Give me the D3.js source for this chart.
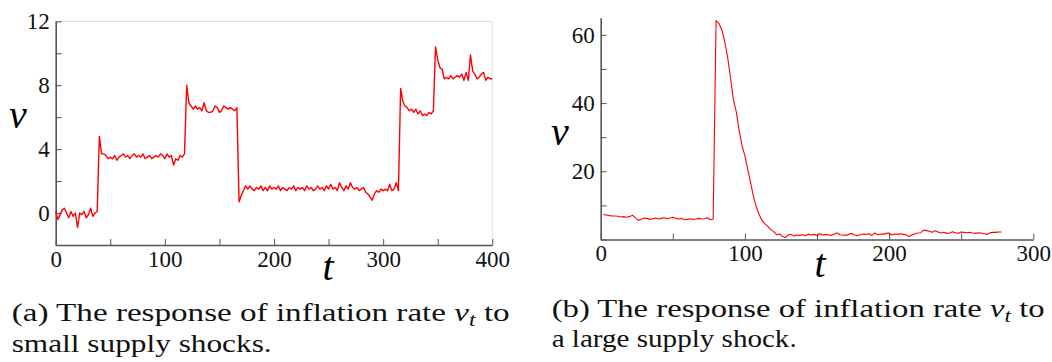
<!DOCTYPE html>
<html>
<head>
<meta charset="utf-8">
<script src="https://cdn.jsdelivr.net/npm/d3@7"></script>
<style>
  body { margin: 0; background: #fff; }
  svg { display: block; }
  svg text { font-family: "Liberation Serif", "DejaVu Serif", serif; }
</style>
</head>
<body>
<div id="chart"></div>
<script>
// (a) small shocks: v sampled every 2 periods, t = 0..400
var smallStart = 0, smallStep = 2;
var smallShocks = [
   0.1, -0.4, -0.1,  0.2,  0.3,  0.0, -0.3,  0.1, -0.2,  0.0,   // t 0-18
  -0.9,  0.0, -0.1,  0.1, -0.3, -0.1,  0.3, -0.2,  0.0,  0.1,   // t 20-38
   4.8,  3.7,  3.7,  3.6,  3.4,  3.5,  3.4,  3.6,  3.3,  3.5,   // t 40-58
   3.6,  3.7,  3.5,  3.6,  3.4,  3.6,  3.7,  3.5,  3.6,  3.5,   // t 60-78
   3.7,  3.4,  3.5,  3.6,  3.4,  3.5,  3.6,  3.5,  3.7,  3.6,   // t 80-98
   3.4,  3.7,  3.5,  3.6,  3.0,  3.4,  3.3,  3.6,  3.5,  3.7,   // t 100-118
   8.0,  6.9,  6.7,  6.5,  6.7,  6.5,  6.6,  6.4,  6.9,  6.4,   // t 120-138
   6.3,  6.3,  6.4,  6.7,  6.6,  6.3,  6.4,  6.7,  6.6,  6.5,   // t 140-158
   6.6,  6.5,  6.4,  6.6,  0.7,  1.1,  1.4,  1.7,  1.5,  1.7,   // t 160-178
   1.5,  1.4,  1.6,  1.5,  1.7,  1.4,  1.6,  1.4,  1.7,  1.5,   // t 180-198
   1.6,  1.5,  1.7,  1.4,  1.6,  1.5,  1.4,  1.6,  1.5,  1.7,   // t 200-218
   1.4,  1.6,  1.5,  1.6,  1.4,  1.7,  1.5,  1.6,  1.4,  1.5,   // t 220-238
   1.7,  1.5,  1.6,  1.4,  1.7,  1.5,  1.8,  1.5,  1.6,  1.4,   // t 240-258
   1.9,  1.6,  1.4,  1.7,  1.5,  1.9,  1.6,  1.5,  1.6,  1.4,   // t 260-278
   1.5,  1.6,  1.3,  1.2,  1.0,  0.8,  1.2,  1.4,  1.3,  1.5,   // t 280-298
   1.4,  1.5,  1.4,  1.8,  1.4,  1.5,  1.9,  1.4,  7.8,  7.0,   // t 300-318
   6.7,  6.6,  6.4,  6.5,  6.3,  6.5,  6.2,  6.4,  6.1,  6.2,   // t 320-338
   6.1,  6.3,  6.2,  6.4, 10.4,  9.6,  9.1,  9.0,  8.4,  8.5,   // t 340-358
   8.4,  8.6,  8.4,  8.5,  8.6,  8.5,  8.7,  8.3,  8.8,  8.3,   // t 360-378
   9.9,  8.9,  8.7,  8.4,  8.5,  8.7,  8.8,  8.3,  8.5,  8.4,   // t 380-398
   8.4                                                          // t 400
];

// (b) one large shock: v sampled every 2 periods, t = 2..278
var largeStart = 2, largeStep = 2;
var largeShock = [
   7.3,  7.2,  7.0,  6.9,  6.9,  6.8,  6.6,  6.7,  6.5,  6.7,   // t 2-20
   7.1,  6.4,  5.6,  5.9,  6.3,  6.2,  5.9,  6.1,  6.3,  6.0,   // t 22-40
   6.2,  6.4,  6.1,  6.3,  6.5,  6.2,  6.0,  6.2,  5.8,  5.9,   // t 42-60
   6.1,  5.9,  6.0,  6.2,  6.0,  6.1,  6.4,  5.8,  6.0, 64.2,   // t 62-80
  63.3, 61.5, 58.0, 53.5, 47.5, 41.0, 37.5, 32.0, 27.5, 24.5,   // t 82-100
  20.5, 16.5, 12.5,  9.5,  7.2,  5.5,  4.6,  3.8,  2.9,  2.3,   // t 102-120
   1.4,  1.6,  0.9,  0.6,  1.3,  1.5,  1.0,  1.3,  1.2,  1.4,   // t 122-140
   1.1,  1.6,  1.3,  1.5,  1.2,  1.7,  1.3,  1.5,  1.4,  1.2,   // t 142-160
   1.6,  1.9,  1.4,  1.3,  1.2,  1.5,  1.8,  1.3,  1.1,  1.4,   // t 162-180
   1.6,  1.5,  1.7,  1.2,  1.9,  1.4,  1.6,  1.5,  1.8,  1.9,   // t 182-200
   1.3,  1.6,  1.5,  1.7,  1.5,  1.3,  0.9,  1.4,  1.7,  1.9,   // t 202-220
   2.0,  2.8,  2.6,  2.4,  2.1,  2.6,  2.2,  1.9,  2.1,  1.8,   // t 222-240
   1.9,  2.3,  2.0,  1.8,  2.2,  2.1,  2.0,  2.1,  1.9,  1.8,   // t 242-260
   2.0,  1.9,  1.7,  1.5,  2.0,  2.1,  2.1,  2.2,  2.2          // t 262-278
];

var smallXTicks = [0, 50, 100, 150, 200, 250, 300, 350, 400];
var smallXLabels = [0, 100, 200, 300, 400];
var smallYTicks = [-2, 0, 2, 4, 6, 8, 10, 12];
var smallYLabels = [0, 4, 8, 12];

var largeXTicks = [0, 50, 100, 150, 200, 250, 300];
var largeXLabels = [0, 100, 200, 300];
var largeYTicks = [0, 10, 20, 30, 40, 50, 60];
var largeYLabels = [20, 40, 60];

var axisColor = "#555";

var svg = d3.select("#chart").append("svg")
    .attr("width", 1052)
    .attr("height", 362);

function toPoints(vals, start, step) {
  return vals.map(function(v, i) { return [start + i * step, v]; });
}

function drawPanel(opt) {
  var x = d3.scaleLinear().domain(opt.xDomain).range([opt.left, opt.right]);
  var y = d3.scaleLinear().domain(opt.yDomain).range([opt.bottom, opt.top]);

  var g = svg.append("g");

  if (opt.frame) {
    g.append("path")
        .attr("d", "M" + x.range()[0] + "," + y.range()[1] + "H" + x.range()[1] + "V" + y.range()[0])
        .attr("fill", "none")
        .attr("stroke", "#e3e3e3")
        .attr("stroke-width", 1.2);
  }

  var xAxis = d3.axisBottom(x)
      .tickValues(opt.xTicks)
      .tickSize(-6)
      .tickSizeOuter(0)
      .tickPadding(opt.xPad)
      .tickFormat(function(d) { return opt.xLabels.indexOf(d) >= 0 ? d : ""; });

  var yAxis = d3.axisLeft(y)
      .tickValues(opt.yTicks)
      .tickSize(-6)
      .tickSizeOuter(0)
      .tickPadding(6)
      .tickFormat(function(d) { return opt.yLabels.indexOf(d) >= 0 ? d : ""; });

  var gx = g.append("g")
      .attr("transform", "translate(0," + opt.bottom + ")")
      .call(xAxis);
  var gy = g.append("g")
      .attr("transform", "translate(" + opt.left + ",0)")
      .call(yAxis);

  [gx, gy].forEach(function(a) {
    a.attr("font-family", null).attr("font-size", 23);
    a.select(".domain").attr("stroke", axisColor).attr("stroke-width", 1.6);
    a.selectAll(".tick line").attr("stroke", axisColor).attr("stroke-width", 1);
    a.selectAll(".tick text").attr("fill", "#111");
  });
  gx.selectAll(".tick text").attr("dy", "0.75em");

  var line = d3.line()
      .x(function(d) { return x(d[0]); })
      .y(function(d) { return y(d[1]); });

  g.append("path")
      .datum(opt.points)
      .attr("fill", "none")
      .attr("stroke", "#ff0000")
      .attr("stroke-width", opt.lineWidth)
      .attr("stroke-linejoin", "round")
      .attr("d", line);

  g.append("text")
      .attr("x", opt.vLabel[0])
      .attr("y", opt.vLabel[1])
      .attr("text-anchor", "middle")
      .attr("font-style", "italic")
      .attr("font-size", 40)
      .text("v");

  g.append("text")
      .attr("x", opt.tLabel[0])
      .attr("y", opt.tLabel[1])
      .attr("text-anchor", "middle")
      .attr("font-style", "italic")
      .attr("font-size", 40)
      .text("t");
}

drawPanel({
  points: toPoints(smallShocks, smallStart, smallStep),
  xDomain: [0, 400], yDomain: [-2, 12],
  left: 55.7, right: 492.3, top: 21.3, bottom: 245,
  xTicks: smallXTicks, xLabels: smallXLabels,
  yTicks: smallYTicks, yLabels: smallYLabels,
  xPad: 5, frame: true, lineWidth: 1.4,
  vLabel: [18, 128], tLabel: [328, 280]
});

drawPanel({
  points: toPoints(largeShock, largeStart, largeStep),
  xDomain: [0, 300], yDomain: [0, 65],
  left: 600.7, right: 1033.3, top: 17.8, bottom: 239.5,
  xTicks: largeXTicks, xLabels: largeXLabels,
  yTicks: largeYTicks, yLabels: largeYLabels,
  xPad: 4, frame: false, lineWidth: 1.1,
  vLabel: [560, 145], tLabel: [820, 277]
});

// captions
function caption(xPos, yPos, width, parts) {
  var t = svg.append("text")
      .attr("x", xPos)
      .attr("y", yPos)
      .attr("font-size", 25)
      .attr("fill", "#111")
      .attr("textLength", width)
      .attr("lengthAdjust", "spacingAndGlyphs");
  parts.forEach(function(p) {
    var s = t.append("tspan").text(p.text);
    if (p.italic) s.attr("font-style", "italic");
    if (p.sub) s.attr("font-size", 18).attr("dy", 5);
    if (p.up) s.attr("dy", -5);
  });
}

caption(11.7, 320.7, 498, [
  {text: "(a) The response of inflation rate "},
  {text: "v", italic: true},
  {text: "t", italic: true, sub: true},
  {text: " to", up: true}
]);
caption(11.7, 352, 260, [{text: "small supply shocks."}]);

caption(551.7, 316.7, 493, [
  {text: "(b) The response of inflation rate "},
  {text: "v", italic: true},
  {text: "t", italic: true, sub: true},
  {text: " to", up: true}
]);
caption(551.7, 347.3, 245, [{text: "a large supply shock."}]);
</script>
</body>
</html>
